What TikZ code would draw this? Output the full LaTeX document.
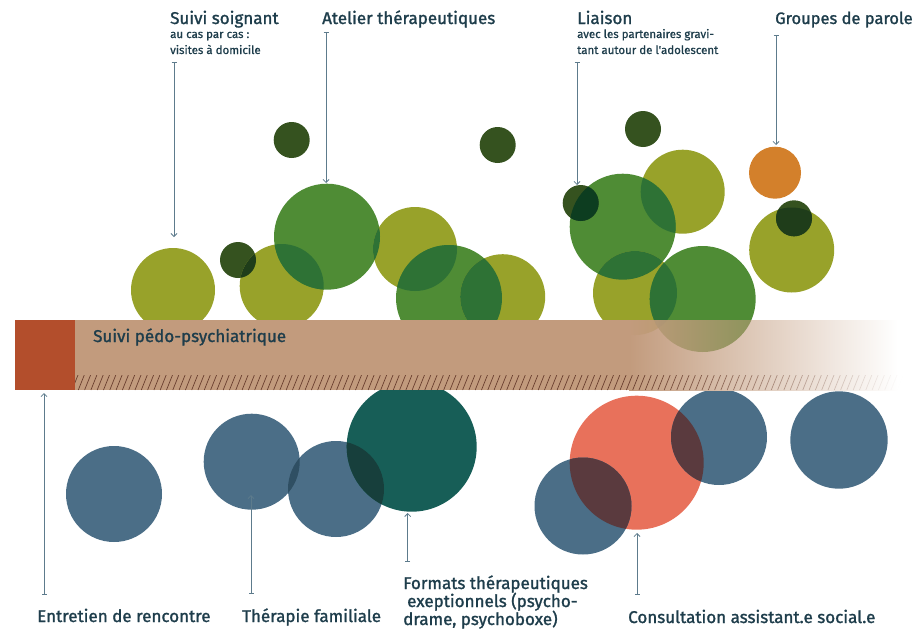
\documentclass[tikz,border=0pt]{standalone}
\usepackage{fontspec}
\setmainfont{Fira Sans}[FakeBold=1.4]
\newfontfamily\smallf{Fira Sans}[FakeBold=0.9]
\usetikzlibrary{arrows.meta}
\definecolor{olivec}{HTML}{98A22A}
\definecolor{greenc}{HTML}{4F8C35}
\definecolor{darkc}{HTML}{35521F}
\definecolor{orangec}{HTML}{D3802B}
\definecolor{ovgo}{HTML}{2E7235}
\definecolor{ovdo}{HTML}{1F3D1A}
\definecolor{ovdg}{HTML}{0D3D20}
\definecolor{bluec}{HTML}{4B6E87}
\definecolor{tealc}{HTML}{175E57}
\definecolor{redc}{HTML}{E8715B}
\definecolor{ovbb}{HTML}{2F4F63}
\definecolor{ovbt}{HTML}{173F3C}
\definecolor{ovrb}{HTML}{5A3A3E}
\definecolor{barc}{HTML}{C29B7D}
\definecolor{barred}{HTML}{B34E2C}
\definecolor{hatchc}{HTML}{6B4030}
\definecolor{txtc}{HTML}{1E3D4B}
\definecolor{linec}{HTML}{5D7B8C}
\newcommand\ovl[3]{\begin{scope}\clip #1; \fill[#3] #2;\end{scope}}
% part of a circle seen through the fading end of the bar
\newcommand\thrubar[2]{\begin{scope}\clip (629,320) rectangle (898,390); \clip #1;
  \shade[left color=barc,right color=#2] (629,320) rectangle (898,390);\end{scope}}
\begin{document}
\begin{tikzpicture}[x=1pt,y=-1pt,
  lbl/.style={anchor=base west,inner sep=0pt,text=txtc,font=\fontsize{17}{20}\selectfont},
  sub/.style={anchor=base west,inner sep=0pt,text=txtc,font=\smallf\fontsize{11.5}{16}\selectfont},
  conn/.style={draw=linec,line width=0.8pt,{Bar[width=5pt,line width=0.8pt]}-{Straight Barb[length=3pt,width=6pt,line width=0.8pt]}},
  hatch/.style={draw=hatchc,line width=0.7pt}]
\useasboundingbox (0,0) rectangle (915,637);
% top circles
\def\tA{(173,290) circle[radius=42]}
\def\tB{(291.7,140) circle[radius=18]}
\def\tC{(497.7,145) circle[radius=18]}
\def\tD{(238,260) circle[radius=18]}
\def\tE{(281.7,286) circle[radius=42]}
\def\tF{(327,236.7) circle[radius=53]}
\def\tG{(415,249) circle[radius=42]}
\def\tH{(449,298) circle[radius=53]}
\def\tI{(502.7,296.7) circle[radius=42.5]}
\def\rA{(643,129) circle[radius=18]}
\def\rB{(682.7,191.7) circle[radius=42]}
\def\rC{(622.7,226.7) circle[radius=53]}
\def\rD{(580.7,203) circle[radius=18]}
\def\rE{(635,293) circle[radius=42]}
\def\rF{(702.7,299) circle[radius=53]}
\def\rG{(775,172.7) circle[radius=26]}
\def\rH{(791.7,250) circle[radius=42.5]}
\def\rI{(794,218.3) circle[radius=18]}
\fill[olivec] \tA; \fill[darkc] \tB; \fill[darkc] \tC; \fill[darkc] \tD;
\fill[olivec] \tE; \fill[greenc] \tF; \fill[olivec] \tG; \fill[greenc] \tH; \fill[olivec] \tI;
\fill[darkc] \rA; \fill[olivec] \rB; \fill[greenc] \rC; \fill[darkc] \rD;
\fill[olivec] \rE; \fill[greenc] \rF; \fill[orangec] \rG; \fill[olivec] \rH; \fill[darkc] \rI;
\ovl{\tD}{\tE}{ovdo}
\ovl{\tE}{\tF}{ovgo}
\ovl{\tF}{\tG}{ovgo}
\ovl{\tG}{\tH}{ovgo}
\ovl{\tH}{\tI}{ovgo}
\ovl{\rB}{\rC}{ovgo}
\ovl{\rD}{\rC}{ovdg}
\ovl{\rC}{\rE}{ovgo}
\ovl{\rE}{\rF}{ovgo}
\ovl{\rH}{\rI}{ovdo}
% bottom circles
\def\bA{(114,494) circle[radius=48]}
\def\bB{(251.7,461.7) circle[radius=48]}
\def\bC{(336,489) circle[radius=48]}
\def\bD{(411.7,446.7) circle[radius=65]}
\def\bE{(636.7,462.7) circle[radius=67]}
\def\bF{(583,506) circle[radius=48.5]}
\def\bG{(719,437) circle[radius=48]}
\def\bH{(839,440) circle[radius=48.7]}
\fill[bluec] \bA; \fill[bluec] \bB; \fill[bluec] \bC; \fill[tealc] \bD;
\fill[redc] \bE; \fill[bluec] \bF; \fill[bluec] \bG; \fill[bluec] \bH;
\ovl{\bB}{\bC}{ovbb}
\ovl{\bC}{\bD}{ovbt}
\ovl{\bE}{\bF}{ovrb}
\ovl{\bE}{\bG}{ovrb}
% bar
\fill[barred] (15,320) rectangle (75,390);
\fill[barc] (75,320) rectangle (630,390);
\shade[left color=barc,right color=white] (629,320) rectangle (898,390);
\thrubar{\rE}{olivec}
\thrubar{\rF}{greenc}
\begin{scope}\clip \rE; \thrubar{\rF}{ovgo}\end{scope}
\begin{scope}
\clip (75,375) rectangle (915,390);
\foreach \i in {0,...,135}{
  \pgfmathsetmacro\xx{72+6.3*\i}
  \pgfmathsetmacro\op{min(1,max(0,(898-\xx)/269))}
  \draw[hatch,opacity=\op] (\xx,390) -- ++(6,-15);
}
\end{scope}
\node[lbl] (bar) at (93,342) {Suivi pédo-psychiatrique};
% top labels
\node[lbl] (l1) at (170,24) {Suivi soignant};
\node[sub] (l1a) at (170,38) {au cas par cas :};
\node[sub] (l1b) at (170,54) {visites à domicile};
\node[lbl] (l2) at (322,24) {Atelier thérapeutiques};
\node[lbl] (l3) at (577,24) {Liaison};
\node[sub] (l3a) at (577,38) {avec les partenaires gravi-};
\node[sub] (l3b) at (577,54) {tant autour de l'adolescent};
\node[lbl,font=\fontsize{16.5}{20}\selectfont] (l4) at (775,24) {Groupes de parole};
% bottom labels
\node[lbl] (b1) at (37,622) {Entretien de rencontre};
\node[lbl] (b2) at (242,622) {Thérapie familiale};
\node[lbl] (b3) at (403,589) {Formats thérapeutiques};
\node[lbl] (b3a) at (407,607) {exeptionnels (psycho-};
\node[lbl] (b3b) at (403,625) {drame, psychoboxe)};
\node[lbl] (b4) at (628,623) {Consultation assistant.e social.e};
% connectors
\coordinate (s1) at (174,62); \coordinate (e1) at (174,237);
\coordinate (s2) at (326,32); \coordinate (e2) at (326,183);
\coordinate (s3) at (577,62); \coordinate (e3) at (577,185);
\coordinate (s4) at (776,35); \coordinate (e4) at (776,145);
\coordinate (s5) at (44,595); \coordinate (e5) at (44,393);
\coordinate (s6) at (251,594); \coordinate (e6) at (251,495);
\coordinate (s7) at (407.7,562); \coordinate (e7) at (407.7,513);
\coordinate (s8) at (637,595); \coordinate (e8) at (637,533);
\foreach \k in {1,...,8}{\draw[conn] (s\k) -- (e\k);}
\end{tikzpicture}
\end{document}
